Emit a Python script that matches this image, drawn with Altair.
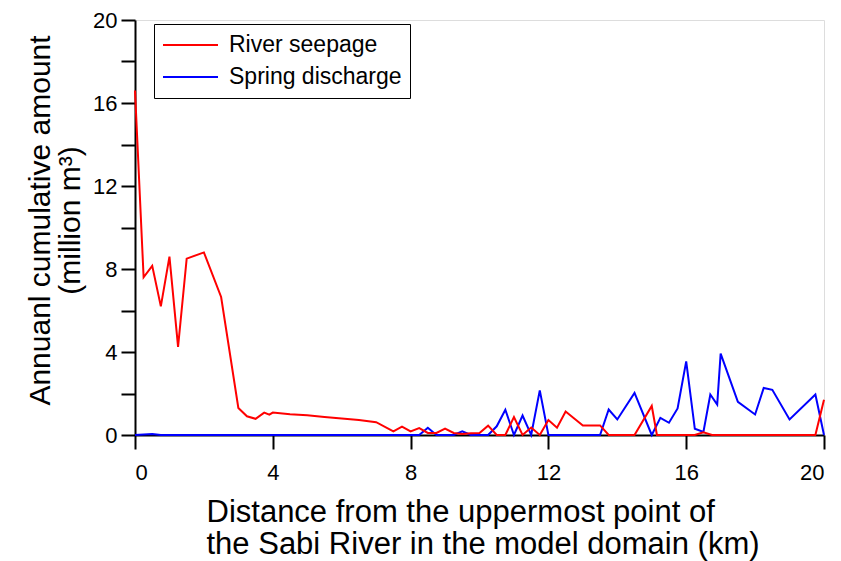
import altair as alt
import pandas as pd

# River seepage (red)
river_x = [0, 0.25, 0.5, 0.75, 1.0, 1.25, 1.5, 2.0, 2.5, 3.0, 3.25, 3.5, 3.75, 3.9, 4.0,
           4.5, 5.0, 5.5, 6.0, 6.5, 7.0, 7.5, 7.75, 8.0, 8.25, 8.5, 8.75, 9.0, 9.25, 9.5,
           9.75, 10.0, 10.25, 10.5, 10.75, 11.0, 11.25, 11.5, 11.75, 12.0, 12.25, 12.5,
           13.0, 13.5, 13.75, 14.5, 15.0, 15.15, 16.25, 16.5, 16.75, 19.75, 20.0]
river_y = [16.6, 7.6, 8.15, 6.2, 8.6, 4.25, 8.5, 8.8, 6.65, 1.3, 0.9, 0.78, 1.08, 0.98, 1.08,
           1.0, 0.95, 0.87, 0.8, 0.72, 0.62, 0.18, 0.4, 0.17, 0.33, 0.1, 0.1, 0.31, 0.1, 0.05,
           0.08, 0.1, 0.45, 0.0, 0.0, 0.86, 0.0, 0.36, 0.0, 0.72, 0.35, 1.13,
           0.46, 0.46, 0.0, 0.0, 1.4, 0.0, 0.0, 0.13, 0.0, 0.0, 1.7]

# Spring discharge (blue)
spring_x = [0, 0.5, 0.75, 8.25, 8.5, 8.75, 9.25, 9.5, 9.75, 10.25, 10.5, 10.75, 11.0, 11.25,
            11.5, 11.75, 12.0, 13.5, 13.75, 14.0, 14.5, 15.0, 15.25, 15.5, 15.75, 16.0, 16.25,
            16.5, 16.7, 16.9, 17.0, 17.5, 18.0, 18.25, 18.5, 19.0, 19.75, 20.0]
spring_y = [0, 0.05, 0, 0, 0.35, 0, 0, 0.18, 0, 0, 0.42, 1.22, 0, 0.94,
            0, 2.15, 0, 0, 1.23, 0.75, 2.03, 0, 0.83, 0.59, 1.28, 3.55, 0.3,
            0.15, 1.95, 1.47, 3.92, 1.6, 0.99, 2.27, 2.18, 0.75, 1.95, 0]

series_names = ["River seepage", "Spring discharge"]
series_colors = ["#ff0000", "#0000ff"]

x_ticks = [0, 4, 8, 12, 16, 20]
y_ticks = [0, 2, 4, 6, 8, 10, 12, 14, 16, 18, 20]

river = pd.DataFrame({"x": river_x, "y": river_y, "series": series_names[0]})
spring = pd.DataFrame({"x": spring_x, "y": spring_y, "series": series_names[1]})

FONT = "Liberation Sans"

color = alt.Color(
    "series:N",
    scale=alt.Scale(domain=series_names, range=series_colors),
    legend=alt.Legend(
        title=None,
        orient="none",
        legendX=19,
        legendY=4,
        symbolType="stroke",
        symbolSize=3025,
        symbolStrokeWidth=2,
        clipHeight=26,
        labelFontSize=23,
        labelFont=FONT,
        labelColor="black",
        labelOffset=10,
        labelLimit=400,
        rowPadding=6,
        padding=8,
        strokeColor="black",
        fillColor="white",
    ),
)

axis_common = dict(
    grid=False,
    domainColor="black",
    domainWidth=2,
    tickColor="black",
    tickWidth=2,
    tickSize=14,
    labelFont=FONT,
    labelFontSize=22,
    labelColor="black",
    titleFont=FONT,
    titleFontWeight="normal",
    titleColor="black",
)

x_enc = alt.X(
    "x:Q",
    scale=alt.Scale(domain=[0, 20], nice=False),
    axis=alt.Axis(
        values=x_ticks,
        title=["Distance from the uppermost point of",
               "the Sabi River in the model domain (km)"],
        titleFontSize=31,
        titleAlign="left",
        titleAnchor="start",
        titleX=71,
        titleY=86,
        titleBaseline="alphabetic",
        titleLineHeight=32,
        labelPadding=13,
        **axis_common,
    ),
)
y_enc = alt.Y(
    "y:Q",
    scale=alt.Scale(domain=[0, 20], nice=False),
    axis=alt.Axis(
        values=y_ticks,
        labelExpr="datum.value % 4 == 0 ? datum.label : ''",
        title=["Annuanl cumulative amount", "(million m³)"],
        titleFontSize=30,
        titleAlign="center",
        titleX=-86,
        titleY=200,
        titleBaseline="alphabetic",
        titleLineHeight=30,
        labelPadding=4,
        **axis_common,
    ),
)

blue_line = alt.Chart(spring).mark_line(strokeWidth=2).encode(x=x_enc, y=y_enc, color=color)
red_line = alt.Chart(river).mark_line(strokeWidth=2).encode(x=x_enc, y=y_enc, color=color)

chart = (
    alt.layer(blue_line, red_line)
    .properties(
        width=689,
        height=415,
        autosize="none",
        padding={"left": 135, "top": 20, "right": 17, "bottom": 126},
    )
)

chart.save("out.html", embed_options={"renderer": "svg", "actions": False})
